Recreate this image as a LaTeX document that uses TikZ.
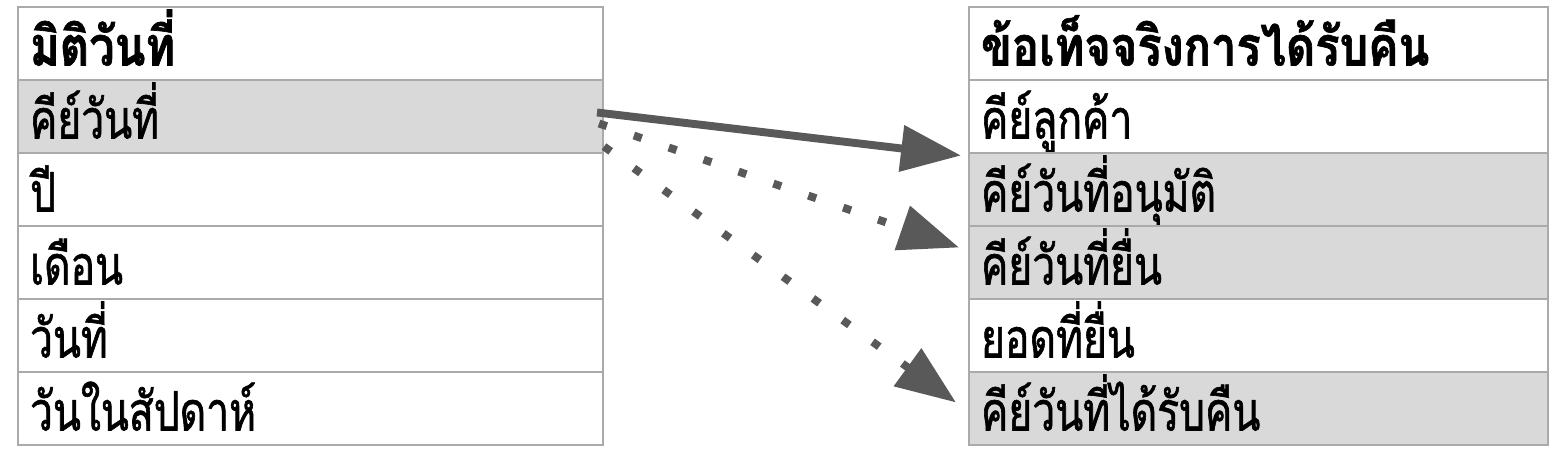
\documentclass[tikz,border=0pt]{standalone}
\usepackage{fontspec}
\newfontfamily\thaifont[Script=Thai,FakeStretch=0.75,FakeBold=1.1]{Loma}
\newfontfamily\thaihead[Script=Thai,FakeStretch=0.83,FakeBold=1.2]{Loma Bold}
\usetikzlibrary{arrows.meta}
\definecolor{cellline}{HTML}{AAAAAA}
\definecolor{cellkey}{HTML}{D9D9D9}
\definecolor{linkgray}{HTML}{595959}
\tikzset{
	cell/.style={draw=cellline, line width=1.2pt, minimum height=1.46cm,
		text width=11.22cm, inner xsep=0.24cm, inner ysep=0pt, align=left,
		text height=1.04cm, text depth=0.16cm,
		font=\thaifont\fontsize{31}{31}\selectfont},
	head/.style={cell, font=\thaihead\fontsize{31}{31}\selectfont},
	link/.style={draw=linkgray, line width=4.5pt, -{Triangle[length=1.2cm, width=0.9cm]}},
	dotlink/.style={link, line cap=butt, dash pattern=on 4.7pt off 16.3pt}
}

\begin{document}
\begin{tikzpicture}[x=0.02cm, y=-0.02cm]
				\useasboundingbox (0,0) rectangle (1562,452);
				% dimension table
				\node[head] (d0) at (310.5,43.5) {มิติวันที่};
				\foreach \i/\txt/\shade in {1/คีย์วันที่/cellkey, 2/ปี/white, 3/เดือน/white, 4/วันที่/white, 5/วันในสัปดาห์/white}
				\node[cell, fill=\shade] (d\i) at (310.5,43.5+73*\i) {\txt};
				% fact table
				\node[head, text width=11.1cm] (f0) at (1258.5,43.5) {ข้อเท็จจริงการได้รับคืน};
				\foreach \i/\txt/\shade in {1/คีย์ลูกค้า/white, 2/คีย์วันที่อนุมัติ/cellkey, 3/คีย์วันที่ยื่น/cellkey, 4/ยอดที่ยื่น/white, 5/คีย์วันที่ได้รับคืน/cellkey}
				\node[cell, fill=\shade, text width=11.1cm] (f\i) at (1258.5,43.5+73*\i) {\txt};
				% key links
				\draw[link] ([shift={(-7,-4)}]d1.east) -- ([shift={(-7,-34)}]f2.west);
				\draw[dotlink] ([shift={(-5,7)}]d1.east) -- ([shift={(-9,-15)}]f3.west);
				\draw[dotlink] ([shift={(0,30)}]d1.east) -- ([shift={(-12,-6)}]f5.west);
			\end{tikzpicture}
\end{document}
